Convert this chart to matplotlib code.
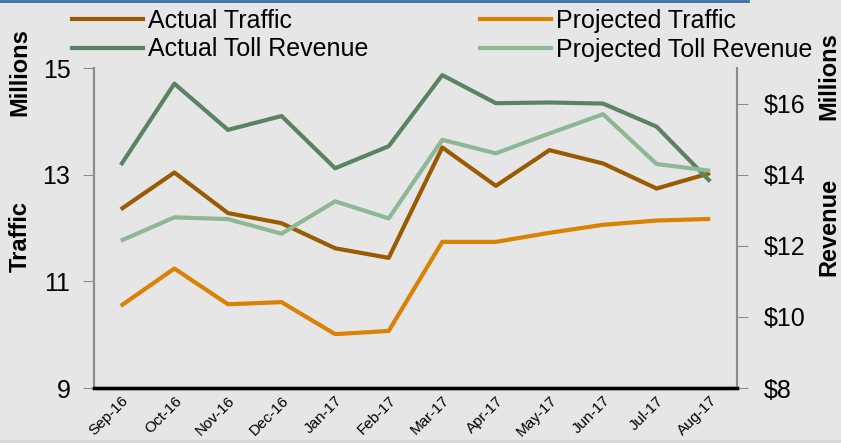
import matplotlib
matplotlib.use("Agg")
import matplotlib.pyplot as plt
from matplotlib.lines import Line2D

plt.rcParams['font.family'] = ['Liberation Sans', 'DejaVu Sans']

months = ["Sep-16", "Oct-16", "Nov-16", "Dec-16", "Jan-17", "Feb-17",
          "Mar-17", "Apr-17", "May-17", "Jun-17", "Jul-17", "Aug-17"]
actual_traffic = [12.35, 13.04, 12.28, 12.09, 11.62, 11.44,
                  13.51, 12.79, 13.46, 13.21, 12.74, 13.03]
projected_traffic = [10.54, 11.24, 10.57, 10.61, 10.01, 10.07,
                     11.74, 11.74, 11.91, 12.06, 12.14, 12.17]
actual_revenue = [14.27, 16.56, 15.26, 15.65, 14.18, 14.80,
                  16.80, 16.01, 16.03, 16.00, 15.35, 13.81]
projected_revenue = [12.14, 12.80, 12.75, 12.34, 13.25, 12.77,
                     14.98, 14.60, 15.16, 15.70, 14.30, 14.11]
left_ticks = [9, 11, 13, 15]
right_ticks = [8, 10, 12, 14, 16]

BG = "#e6e6e6"
C_AT = "#9a5a00"
C_PT = "#d98200"
C_AR = "#5a8461"
C_PR = "#8db893"

fig = plt.figure(figsize=(8.41, 4.43), dpi=100, facecolor=BG)
ax = fig.add_axes([94/841, 55/443, 643/841, 320/443])
ax.set_facecolor(BG)
ax2 = ax.twinx()

x = list(range(len(months)))
lw = 3.0
ax.plot(x, actual_traffic, color=C_AT, lw=lw, solid_capstyle='butt')
ax.plot(x, projected_traffic, color=C_PT, lw=lw, solid_capstyle='butt')
ax2.plot(x, actual_revenue, color=C_AR, lw=lw, solid_capstyle='butt')
ax2.plot(x, projected_revenue, color=C_PR, lw=lw, solid_capstyle='butt')

ax.set_xlim(-0.5, len(months) - 0.5)
ax.set_ylim(9, 15)
ax2.set_ylim(8, 17)
ax.set_yticks(left_ticks)
ax.set_yticklabels([str(v) for v in left_ticks], fontsize=18)
ax2.set_yticks(right_ticks)
ax2.set_yticklabels([f"${v}" for v in right_ticks], fontsize=18)

ax.set_xticks(x)
ax.set_xticklabels(months, rotation=45, ha='right', va='top',
                   rotation_mode='anchor', fontsize=11)
ax.tick_params(axis='x', length=0, pad=4)
ax.tick_params(axis='y', direction='out', length=8, color='#8c8c8c', pad=9)
ax2.tick_params(axis='y', direction='out', length=8, color='#8c8c8c', pad=11)

for a in (ax, ax2):
    a.spines['top'].set_visible(False)
    a.spines['left'].set_color('#8c8c8c')
    a.spines['right'].set_color('#8c8c8c')
    a.spines['left'].set_linewidth(1.5)
    a.spines['right'].set_linewidth(1.5)
    a.spines['bottom'].set_color('black')
    a.spines['bottom'].set_linewidth(2.4)

# Axis titles
fig.text(20/841, 1 - 72/443, "Millions", rotation=90, fontsize=17,
         fontweight='bold', ha='center', va='center')
fig.text(20/841, 1 - 236/443, "Traffic", rotation=90, fontsize=17,
         fontweight='bold', ha='center', va='center')
fig.text(829/841, 1 - 76/443, "Millions", rotation=90, fontsize=17,
         fontweight='bold', ha='center', va='center')
fig.text(829/841, 1 - 227/443, "Revenue", rotation=90, fontsize=17,
         fontweight='bold', ha='center', va='center')

# Legend
handles = [Line2D([], [], color=C_AT, lw=lw), Line2D([], [], color=C_AR, lw=lw),
           Line2D([], [], color=C_PT, lw=lw), Line2D([], [], color=C_PR, lw=lw)]
labels = ["Actual Traffic", "Actual Toll Revenue",
          "Projected Traffic", "Projected Toll Revenue"]
fig.legend(handles, labels, ncol=2, loc='upper left',
           bbox_to_anchor=(72/841, 1 - 9/443), frameon=False, fontsize=18,
           handlelength=2.85, handletextpad=0.2, columnspacing=4.45,
           labelspacing=0.18, borderaxespad=0, borderpad=0)

# Decorative frame details
fig.add_artist(Line2D([0, 748/841], [1 - 1/443, 1 - 1/443],
                      transform=fig.transFigure, color='#3c6ea6', lw=2))
fig.add_artist(Line2D([0, 1], [1.5/443, 1.5/443],
                      transform=fig.transFigure, color='#d8d8d8', lw=3))

fig.savefig("out.png", dpi=100, facecolor=BG)
